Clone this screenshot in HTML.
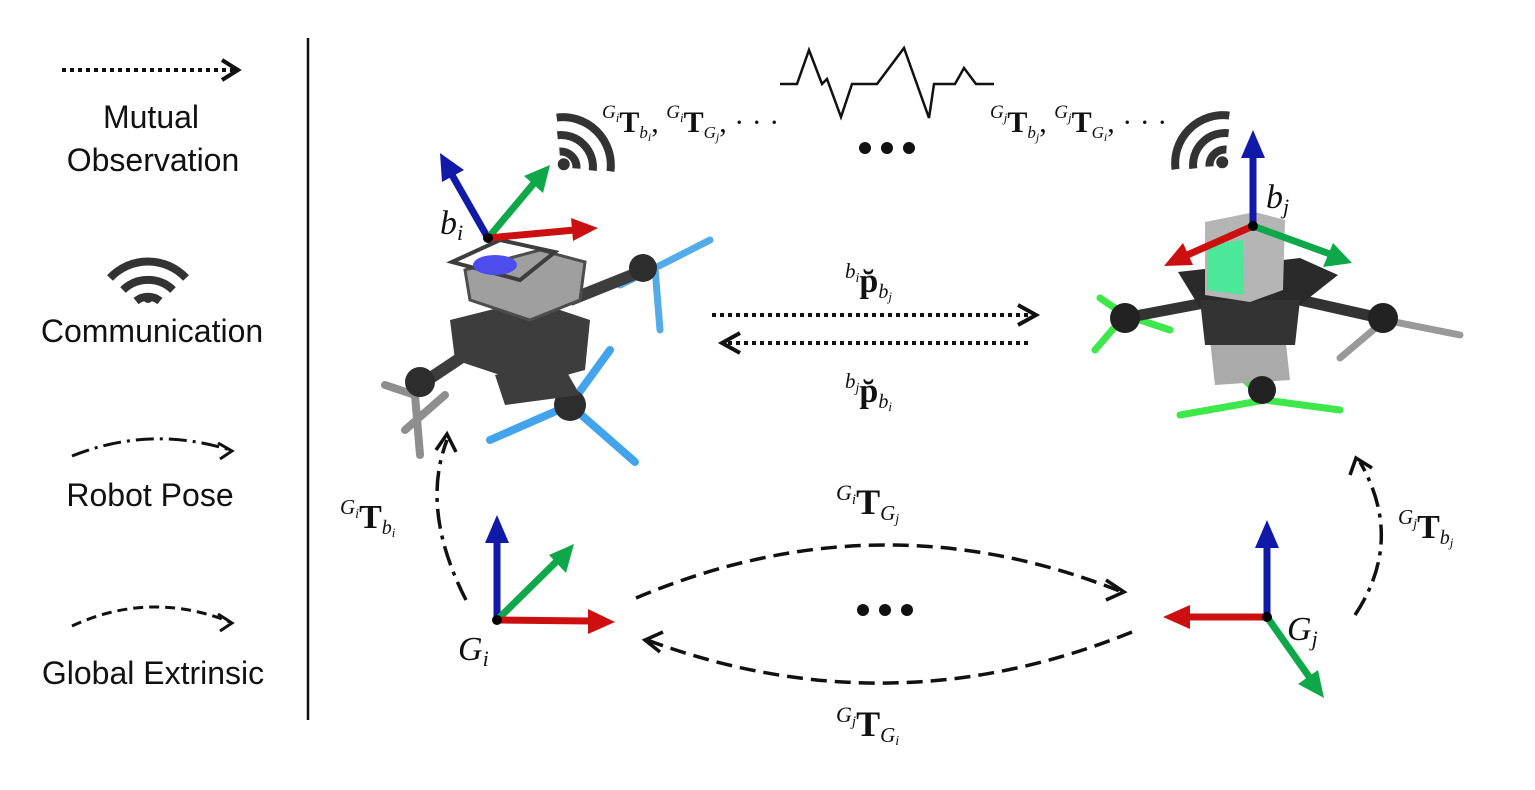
<!DOCTYPE html>
<html><head><meta charset="utf-8"><style>
html,body{margin:0;padding:0;background:#fff;}
svg{display:block;}
.lg{font-family:"Liberation Sans",sans-serif;font-size:32px;fill:#111;text-anchor:middle;}
.m{font-family:"Liberation Serif",serif;fill:#111;}
</style></head><body>
<svg width="1535" height="790" viewBox="0 0 1535 790" xmlns="http://www.w3.org/2000/svg">
<!-- separator -->
<line x1="308" y1="38" x2="308" y2="720" stroke="#111" stroke-width="2.5"/>
<!-- legend -->
<line x1="62" y1="70" x2="236" y2="70" stroke="#111" stroke-width="4" stroke-dasharray="4 4"/>
<polyline points="222,60 238,70 222,80" fill="none" stroke="#111" stroke-width="4"/>
<text class="lg" x="151" y="128">Mutual</text>
<text class="lg" x="153" y="171">Observation</text>
<g transform="translate(148,298)" fill="none" stroke="#333" stroke-width="8">
<path d="M-38,-20 A52,52 0 0 1 38,-20"/><path d="M-25,-8 A36,36 0 0 1 25,-8"/><path d="M-12,3 A19,19 0 0 1 12,3"/>
<circle cx="0" cy="0" r="5" fill="#333" stroke="none"/>
</g>
<text class="lg" x="152" y="342">Communication</text>
<path d="M72,456 Q150,425 230,450" fill="none" stroke="#111" stroke-width="3" stroke-dasharray="18 6 3 6"/>
<polyline points="218,443 232,451 220,459" fill="none" stroke="#111" stroke-width="3"/>
<text class="lg" x="150" y="506">Robot Pose</text>
<path d="M72,626 Q150,590 230,622" fill="none" stroke="#111" stroke-width="3" stroke-dasharray="10 6"/>
<polyline points="218,614 232,623 220,631" fill="none" stroke="#111" stroke-width="3"/>
<text class="lg" x="153" y="684">Global Extrinsic</text>

<!-- waveform -->
<polyline points="780,84 797,84 809,50 822,84 827,79 841,117 852,84 877,84 904,48 929,118 934,84 955,84 964,68 976,84 994,84" fill="none" stroke="#111" stroke-width="2.5"/>
<g fill="#111"><circle cx="865" cy="148" r="6"/><circle cx="887" cy="148" r="6"/><circle cx="909" cy="148" r="6"/>
<circle cx="863" cy="610" r="6"/><circle cx="885" cy="610" r="6"/><circle cx="907" cy="610" r="6"/></g>

<!-- top labels -->
<text class="m" x="602" y="132" font-size="30"><tspan font-size="19" dy="-14" font-style="italic">G</tspan><tspan font-size="13" font-style="italic" dy="4">i</tspan><tspan font-weight="bold" dy="10">T</tspan><tspan font-size="17" font-style="italic" dy="6">b</tspan><tspan font-size="12" font-style="italic" dy="3">i</tspan><tspan dy="-9">, </tspan><tspan font-size="19" dy="-14" font-style="italic">G</tspan><tspan font-size="13" font-style="italic" dy="4">i</tspan><tspan font-weight="bold" dy="10">T</tspan><tspan font-size="17" font-style="italic" dy="6">G</tspan><tspan font-size="12" font-style="italic" dy="3">j</tspan><tspan dy="-9">, · · ·</tspan></text>
<text class="m" x="990" y="132" font-size="30"><tspan font-size="19" dy="-14" font-style="italic">G</tspan><tspan font-size="13" font-style="italic" dy="4">j</tspan><tspan font-weight="bold" dy="10">T</tspan><tspan font-size="17" font-style="italic" dy="6">b</tspan><tspan font-size="12" font-style="italic" dy="3">j</tspan><tspan dy="-9">, </tspan><tspan font-size="19" dy="-14" font-style="italic">G</tspan><tspan font-size="13" font-style="italic" dy="4">j</tspan><tspan font-weight="bold" dy="10">T</tspan><tspan font-size="17" font-style="italic" dy="6">G</tspan><tspan font-size="12" font-style="italic" dy="3">i</tspan><tspan dy="-9">, · · ·</tspan></text>

<!-- wifi icons -->
<g transform="translate(568,160) rotate(45)" fill="none" stroke="#333" stroke-width="8">
<path d="M-38,-22 A48,48 0 0 1 38,-22"/><path d="M-25,-10 A32,32 0 0 1 25,-10"/><path d="M-12,0 A16,16 0 0 1 12,0"/><circle cx="0" cy="6" r="6" fill="#333" stroke="none"/></g>
<g transform="translate(1218,158) rotate(-45)" fill="none" stroke="#333" stroke-width="8">
<path d="M-38,-22 A48,48 0 0 1 38,-22"/><path d="M-25,-10 A32,32 0 0 1 25,-10"/><path d="M-12,0 A16,16 0 0 1 12,0"/><circle cx="0" cy="6" r="6" fill="#333" stroke="none"/></g>

<!-- left drone -->
<g opacity="0.95">
<path d="M445,395 L405,430 M415,395 L385,385 M415,395 L420,455" stroke="#888" stroke-width="8" stroke-linecap="round"/>
<path d="M655,268 L710,240 M655,268 L660,330 M655,268 L620,285" stroke="#4aa8e8" stroke-width="7" stroke-linecap="round"/>
<path d="M570,405 L490,440 M570,405 L610,350 M570,405 L635,462" stroke="#3aa0ea" stroke-width="8" stroke-linecap="round"/>
<path d="M420,385 L480,345 M640,272 L570,300 M570,400 L540,360" stroke="#333" stroke-width="12"/>
<polygon points="450,320 530,300 590,320 585,370 530,385 455,360" fill="#333"/>
<polygon points="465,270 540,250 585,262 580,300 530,320 470,300" fill="#9a9a9a" stroke="#444" stroke-width="3"/>
<polygon points="452,262 500,240 555,252 520,280" fill="none" stroke="#333" stroke-width="4"/>
<ellipse cx="495" cy="265" rx="22" ry="10" fill="#4444ee"/>
<circle cx="420" cy="382" r="15" fill="#222"/><circle cx="643" cy="268" r="14" fill="#222"/><circle cx="570" cy="405" r="16" fill="#222"/>
<polygon points="495,375 560,360 580,395 505,405" fill="#333"/>
</g>
<!-- right drone -->
<g>
<path d="M1125,315 L1100,298 M1125,315 L1170,330 M1125,315 L1095,350" stroke="#3ee84a" stroke-width="7" stroke-linecap="round"/>
<path d="M1265,400 L1180,415 M1265,400 L1340,410 M1265,400 L1245,380" stroke="#3ee84a" stroke-width="7" stroke-linecap="round"/>
<path d="M1385,320 L1460,335 M1385,320 L1340,358" stroke="#999" stroke-width="7" stroke-linecap="round"/>
<path d="M1125,318 L1220,300 M1380,318 L1300,300 M1262,390 L1262,320" stroke="#333" stroke-width="11"/>
<polygon points="1210,340 1285,335 1290,380 1215,385" fill="#aaa"/>
<polygon points="1178,272 1300,258 1338,275 1300,305 1200,308" fill="#2a2a2a"/>
<polygon points="1200,300 1300,300 1295,345 1205,345" fill="#333"/>
<polygon points="1205,222 1255,212 1285,220 1283,290 1250,302 1205,295" fill="#b5b5b5"/>
<polygon points="1207,245 1243,240 1244,295 1207,290" fill="#4be89a"/>
<circle cx="1125" cy="318" r="15" fill="#222"/><circle cx="1383" cy="318" r="15" fill="#222"/><circle cx="1262" cy="390" r="14" fill="#222"/>
</g>

<!-- bi frame -->
<g stroke-width="7">
<line x1="488" y1="238" x2="452" y2="175" stroke="#1019a8"/><polygon points="440,153 464,170 442,182" fill="#1019a8"/>
<line x1="488" y1="238" x2="535" y2="182" stroke="#0ea84a"/><polygon points="550,165 543,193 524,176" fill="#0ea84a"/>
<line x1="488" y1="238" x2="575" y2="230" stroke="#cc1010"/><polygon points="598,228 573,241 571,218" fill="#cc1010"/>
</g>
<circle cx="488" cy="238" r="5" fill="#000"/>
<text class="m" x="440" y="234" font-size="34" font-style="italic">b<tspan font-size="22" dy="6">i</tspan></text>
<!-- bj frame -->
<g stroke-width="7">
<line x1="1253" y1="226" x2="1253" y2="155" stroke="#1019a8"/><polygon points="1253,130 1265,158 1241,158" fill="#1019a8"/>
<line x1="1253" y1="226" x2="1185" y2="256" stroke="#cc1010"/><polygon points="1164,266 1183,243 1193,265" fill="#cc1010"/>
<line x1="1253" y1="226" x2="1330" y2="254" stroke="#0ea84a"/><polygon points="1352,263 1323,267 1333,243" fill="#0ea84a"/>
</g>
<circle cx="1253" cy="226" r="5" fill="#000"/>
<text class="m" x="1266" y="208" font-size="34" font-style="italic">b<tspan font-size="22" dy="6">j</tspan></text>

<!-- mutual arrows -->
<line x1="712" y1="315" x2="1034" y2="315" stroke="#111" stroke-width="4" stroke-dasharray="4 4"/>
<polyline points="1018,305 1036,315 1018,325" fill="none" stroke="#111" stroke-width="4"/>
<line x1="1028" y1="343" x2="724" y2="343" stroke="#111" stroke-width="4" stroke-dasharray="4 4"/>
<polyline points="740,333 722,343 740,353" fill="none" stroke="#111" stroke-width="4"/>
<text class="m" x="845" y="292" font-size="34"><tspan font-size="21" font-style="italic" dy="-14">b</tspan><tspan font-size="14" font-style="italic" dy="4">i</tspan><tspan font-weight="bold" dy="10">p̆</tspan><tspan font-size="20" font-style="italic" dy="6">b</tspan><tspan font-size="13" font-style="italic" dy="3">j</tspan></text>
<text class="m" x="845" y="402" font-size="34"><tspan font-size="21" font-style="italic" dy="-14">b</tspan><tspan font-size="14" font-style="italic" dy="4">j</tspan><tspan font-weight="bold" dy="10">p̆</tspan><tspan font-size="20" font-style="italic" dy="6">b</tspan><tspan font-size="13" font-style="italic" dy="3">i</tspan></text>

<!-- Gi frame -->
<g stroke-width="7">
<line x1="497" y1="620" x2="497" y2="540" stroke="#1019a8"/><polygon points="497,515 509,543 485,543" fill="#1019a8"/>
<line x1="497" y1="620" x2="558" y2="560" stroke="#0ea84a"/><polygon points="574,544 566,573 549,555" fill="#0ea84a"/>
<line x1="497" y1="620" x2="590" y2="621" stroke="#cc1010"/><polygon points="615,622 588,634 588,609" fill="#cc1010"/>
</g>
<circle cx="497" cy="620" r="5" fill="#000"/>
<text class="m" x="458" y="660" font-size="34" font-style="italic">G<tspan font-size="22" dy="6">i</tspan></text>
<!-- Gj frame -->
<g stroke-width="7">
<line x1="1267" y1="617" x2="1267" y2="545" stroke="#1019a8"/><polygon points="1267,520 1279,548 1255,548" fill="#1019a8"/>
<line x1="1267" y1="617" x2="1188" y2="617" stroke="#cc1010"/><polygon points="1163,617 1190,605 1190,629" fill="#cc1010"/>
<line x1="1267" y1="617" x2="1310" y2="678" stroke="#0ea84a"/><polygon points="1324,698 1298,684 1318,670" fill="#0ea84a"/>
</g>
<circle cx="1267" cy="617" r="5" fill="#000"/>
<text class="m" x="1287" y="640" font-size="34" font-style="italic">G<tspan font-size="22" dy="6">j</tspan></text>

<!-- robot pose arcs -->
<path d="M466,600 Q420,510 447,440" fill="none" stroke="#111" stroke-width="3.5" stroke-dasharray="20 7 4 7"/>
<polyline points="436,450 447,434 456,452" fill="none" stroke="#111" stroke-width="3.5"/>
<path d="M1355,615 Q1405,540 1360,462" fill="none" stroke="#111" stroke-width="3.5" stroke-dasharray="20 7 4 7"/>
<polyline points="1350,475 1356,458 1372,468" fill="none" stroke="#111" stroke-width="3.5"/>
<text class="m" x="340" y="528" font-size="34"><tspan font-size="21" font-style="italic" dy="-14">G</tspan><tspan font-size="14" font-style="italic" dy="4">i</tspan><tspan font-weight="bold" dy="10">T</tspan><tspan font-size="20" font-style="italic" dy="6">b</tspan><tspan font-size="13" font-style="italic" dy="3">i</tspan></text>
<text class="m" x="1398" y="538" font-size="34"><tspan font-size="21" font-style="italic" dy="-14">G</tspan><tspan font-size="14" font-style="italic" dy="4">j</tspan><tspan font-weight="bold" dy="10">T</tspan><tspan font-size="20" font-style="italic" dy="6">b</tspan><tspan font-size="13" font-style="italic" dy="3">j</tspan></text>

<!-- global extrinsic arcs -->
<path d="M636,598 Q880,495 1122,592" fill="none" stroke="#111" stroke-width="3.5" stroke-dasharray="16 8"/>
<polyline points="1106,580 1124,592 1106,600" fill="none" stroke="#111" stroke-width="3.5"/>
<path d="M1132,632 Q890,730 647,640" fill="none" stroke="#111" stroke-width="3.5" stroke-dasharray="16 8"/>
<polyline points="663,632 645,640 660,652" fill="none" stroke="#111" stroke-width="3.5"/>
<text class="m" x="836" y="514" font-size="36"><tspan font-size="22" font-style="italic" dy="-14">G</tspan><tspan font-size="15" font-style="italic" dy="4">i</tspan><tspan font-weight="bold" dy="10">T</tspan><tspan font-size="21" font-style="italic" dy="6">G</tspan><tspan font-size="14" font-style="italic" dy="3">j</tspan></text>
<text class="m" x="836" y="736" font-size="36"><tspan font-size="22" font-style="italic" dy="-14">G</tspan><tspan font-size="15" font-style="italic" dy="4">j</tspan><tspan font-weight="bold" dy="10">T</tspan><tspan font-size="21" font-style="italic" dy="6">G</tspan><tspan font-size="14" font-style="italic" dy="3">i</tspan></text>
</svg>
</body></html>
